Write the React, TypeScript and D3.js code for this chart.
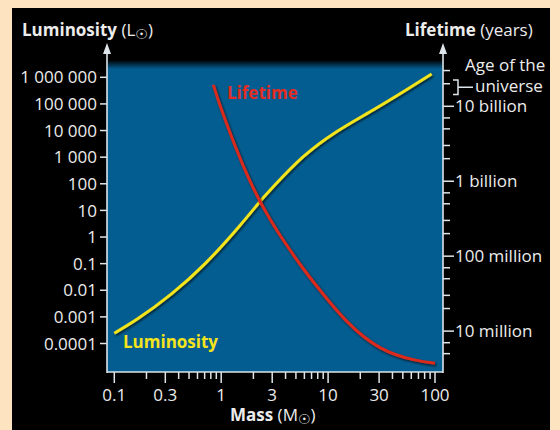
import React from 'react';
import * as d3 from 'd3';

// ---- data ----
const massLum = [0.1, 0.168, 0.345, 0.707, 1.445, 2.31, 3.18, 5.86, 12.0, 24.7, 50.5, 93];
const luminosity = [2.44e-4, 8.8e-4, 7.5e-3, 0.1, 2.29, 21.7, 90, 1040, 9060, 51000, 288000, 1330000];

const massLife = [0.844, 1.01, 1.35, 1.78, 2.31, 2.97, 3.55, 5.46, 8.4, 14.9, 30.6, 62.7, 100];
const lifetime = [1.93e10, 8.9e9, 2.95e9, 1.15e9, 5.37e8, 2.86e8, 1.9e8, 7.8e7, 3.51e7, 1.36e7, 6.03e6, 4.16e6, 3.72e6];

const massTicks = [0.1, 0.3, 1, 3, 10, 30, 100];
const massTickLabels = ['0.1', '0.3', '1', '3', '10', '30', '100'];
const massMinor = [0.2, 0.4, 0.5, 0.6, 0.7, 0.8, 0.9, 2, 4, 5, 6, 7, 8, 9, 20, 40, 50, 60, 70, 80, 90];

const lumTicks = [1e6, 1e5, 1e4, 1e3, 100, 10, 1, 0.1, 0.01, 0.001, 0.0001];
const lumTickLabels = ['1 000 000', '100 000', '10 000', '1 000', '100', '10', '1', '0.1', '0.01', '0.001', '0.0001'];

const lifeTicks = [1e7, 1e8, 1e9, 1e10];
const lifeTickLabels = ['10 million', '100 million', '1 billion', '10 billion'];
const lifeMinor = [5e6, 7e6, 2e7, 3e7, 5e7, 7e7, 2e8, 3e8, 5e8, 7e8, 2e9, 3e9, 5e9, 7e9, 2e10, 3e10];

// ---- layout ----
const W = 560;
const H = 430;
const PL = 107;
const PR = 443;
const PT = 60;
const PB = 372;

const FONT = "'Open Sans', 'Noto Sans', sans-serif";
const SUN = "'DejaVu Sans', sans-serif";
const TXT = '#ececec';
const AX = '#dde5ea';

export default function App() {
  const x = d3.scaleLog().domain([0.1, 100]).range([114.3, 435]);
  const yLum = d3.scaleLog().domain([1e-4, 1e6]).range([343.5, 77.3]);
  const yLife = d3.scaleLog().domain([1e7, 1e10]).range([331.1, 106.3]);

  const lumLine = d3
    .line<number>()
    .x((d, i) => x(massLum[i]))
    .y((d) => yLum(d))
    .curve(d3.curveNatural);
  const lifeLine = d3
    .line<number>()
    .x((d, i) => x(massLife[i]))
    .y((d) => yLife(d))
    .curve(d3.curveNatural);

  return (
    <svg
      width={W}
      height={H}
      style={{ position: 'absolute', left: 0, top: 0 }}
      fontFamily={FONT}
    >
      <defs>
        <linearGradient id="topShade" x1="0" y1="0" x2="0" y2="1">
          <stop offset="0" stopColor="#000" stopOpacity="1" />
          <stop offset="1" stopColor="#000" stopOpacity="0" />
        </linearGradient>
        <filter id="sh" x="-10%" y="-10%" width="120%" height="120%">
          <feDropShadow dx="1.2" dy="1.5" stdDeviation="1" floodColor="#000" floodOpacity="0.7" />
        </filter>
      </defs>
      <rect x={0} y={0} width={W} height={H} fill="#fde3bf" />
      <rect x={12} y={8} width={538} height={H - 8} fill="#000" />

      {/* plot area */}
      <rect x={PL} y={PT} width={PR - PL} height={PB - PT} fill="#035d90" />
      <rect x={PL} y={PT} width={PR - PL} height={9} fill="url(#topShade)" />

      {/* curves */}
      <path d={lumLine(luminosity) || ''} fill="none" stroke="#f4e41c" strokeWidth={3} filter="url(#sh)" />
      <path d={lifeLine(lifetime) || ''} fill="none" stroke="#d92a1f" strokeWidth={3} filter="url(#sh)" />

      <text x={227} y={99} fill="#e22b22" fontWeight="bold" fontSize={17}>Lifetime</text>
      <text x={123} y={348} fill="#f4e41c" fontWeight="bold" fontSize={17}>Luminosity</text>

      {/* left axis */}
      <line x1={PL} x2={PL} y1={PB + 1} y2={50} stroke={AX} strokeWidth={1.6} />
      <polygon points={`${PL},43 ${PL - 4},54 ${PL + 4},54`} fill={AX} />
      {lumTicks.map((t, i) => (
        <g key={'l' + i}>
          <line x1={PL - 7} x2={PL} y1={yLum(t)} y2={yLum(t)} stroke={AX} strokeWidth={1.5} />
          <text x={97} y={yLum(t)} dy="0.36em" textAnchor="end" fill={TXT} fontSize={17}>
            {lumTickLabels[i]}
          </text>
        </g>
      ))}

      {/* right axis */}
      <line x1={PR} x2={PR} y1={PB + 1} y2={50} stroke={AX} strokeWidth={1.6} />
      <polygon points={`${PR},43 ${PR - 4},54 ${PR + 4},54`} fill={AX} />
      {lifeMinor.map((t, i) => (
        <line key={'rm' + i} x1={PR} x2={PR + 7} y1={yLife(t)} y2={yLife(t)} stroke={AX} strokeWidth={1.5} />
      ))}
      {lifeTicks.map((t, i) => (
        <g key={'r' + i}>
          <line x1={PR} x2={PR + 11} y1={yLife(t)} y2={yLife(t)} stroke={AX} strokeWidth={1.5} />
          <text x={455} y={yLife(t)} dy="0.36em" fill={TXT} fontSize={17}>
            {lifeTickLabels[i]}
          </text>
        </g>
      ))}
      {/* age of the universe annotation */}
      <path d="M453,80 H458 V94.5 H453 M458,87.3 H473" fill="none" stroke={AX} strokeWidth={1.5} />
      <text x={465} y={71} fill={TXT} fontSize={17}>Age of the</text>
      <text x={475} y={92} fill={TXT} fontSize={17}>universe</text>

      {/* bottom axis */}
      <line x1={PL} x2={PR} y1={PB} y2={PB} stroke={AX} strokeWidth={1.6} />
      {massMinor.map((t, i) => (
        <line key={'bm' + i} x1={x(t)} x2={x(t)} y1={PB} y2={PB + 7} stroke={AX} strokeWidth={1.5} />
      ))}
      {massTicks.map((t, i) => (
        <g key={'b' + i}>
          <line x1={x(t)} x2={x(t)} y1={PB} y2={PB + 11} stroke={AX} strokeWidth={1.5} />
          <text x={x(t)} y={401} textAnchor="middle" fill={TXT} fontSize={17}>
            {massTickLabels[i]}
          </text>
        </g>
      ))}

      {/* axis titles */}
      <text x={22} y={36} fill={TXT} fontSize={17}>
        <tspan fontWeight="bold">Luminosity</tspan>
        <tspan> (L</tspan>
        <tspan fontFamily={SUN} fontSize={14} dy={3}>☉</tspan>
        <tspan dy={-3}>)</tspan>
      </text>
      <text x={405} y={36} fill={TXT} fontSize={17}>
        <tspan fontWeight="bold">Lifetime</tspan>
        <tspan> (years)</tspan>
      </text>
      <text x={230} y={421} fill={TXT} fontSize={17}>
        <tspan fontWeight="bold">Mass</tspan>
        <tspan> (M</tspan>
        <tspan fontFamily={SUN} fontSize={14} dy={3}>☉</tspan>
        <tspan dy={-3}>)</tspan>
      </text>
    </svg>
  );
}
